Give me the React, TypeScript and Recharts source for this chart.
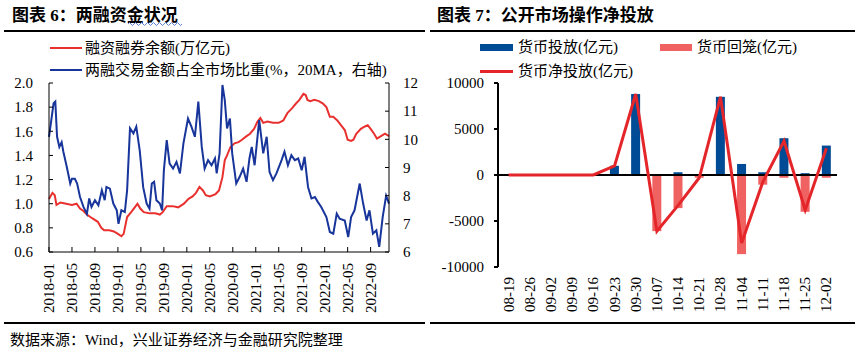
import { LineChart, Line, XAxis, YAxis, ComposedChart, Bar, ReferenceLine } from "recharts";

const FONT = '"Liberation Serif", "Times New Roman", "Noto Sans CJK SC", serif';

// left chart: month index since 2018-01 -> value
const marginBalance: [number, number][] = [
  [0, 1.04], [0.6, 1.09], [1.0, 1.07], [1.3, 0.99], [2, 1.01], [3, 1.0], [4, 0.99], [4.8, 1.0],
  [5.4, 0.96], [6, 0.94], [6.6, 0.91], [7.5, 0.88], [8.5, 0.85], [9.1, 0.8], [9.6, 0.78], [10.5, 0.78],
  [11.3, 0.77], [12, 0.75], [12.6, 0.73], [13, 0.75], [13.6, 0.89], [14.3, 0.93], [15.1, 0.98], [15.4, 1.0],
  [15.9, 0.96], [16.5, 0.93], [17.5, 0.92], [18.5, 0.92], [19.3, 0.91], [19.8, 0.93], [20.5, 0.98], [21.5, 0.98],
  [22.5, 0.97], [23.5, 1.0], [24.3, 1.04], [25, 1.06], [25.6, 1.09], [26.2, 1.14], [26.8, 1.11], [27.3, 1.07],
  [28, 1.06], [29, 1.08], [29.6, 1.11], [30.2, 1.22], [30.6, 1.36], [31, 1.4], [31.6, 1.47], [32.3, 1.5],
  [33, 1.51], [33.6, 1.53], [34.4, 1.56], [35, 1.58], [35.7, 1.62], [36.3, 1.68], [36.8, 1.71], [37.3, 1.67],
  [38, 1.68], [39, 1.67], [40, 1.67], [40.8, 1.69], [41.5, 1.75], [42.3, 1.79], [43, 1.83], [43.6, 1.86],
  [44.3, 1.91], [44.7, 1.9], [45, 1.86], [45.5, 1.85], [46.2, 1.86], [47, 1.85], [47.7, 1.83], [48.3, 1.8],
  [48.9, 1.72], [49.5, 1.72], [50.2, 1.69], [51, 1.64], [51.5, 1.61], [52, 1.53], [52.6, 1.52], [53, 1.53],
  [53.5, 1.58], [54.3, 1.62], [55, 1.64], [55.5, 1.65], [56, 1.62], [56.6, 1.58], [57.1, 1.54], [57.8, 1.56],
  [58.5, 1.58], [59.2, 1.56],
];

const tradeShare: [number, number][] = [
  [0, 10.09], [0.4, 10.68], [0.8, 11.28], [1.1, 11.34], [1.4, 10.1], [1.8, 9.73], [2.2, 9.9], [2.5, 9.56],
  [3.1, 9.02], [3.7, 8.43], [4.0, 8.6], [4.5, 8.6], [4.9, 8.43], [5.4, 7.95], [6.0, 7.6], [6.6, 7.35],
  [7.0, 7.9], [7.4, 7.6], [8.0, 7.84], [8.6, 7.66], [9.2, 8.19], [9.7, 7.84], [10, 8.31], [10.6, 8.25],
  [11.2, 7.72], [11.8, 7.48], [12.1, 7.0], [12.6, 7.48], [13.2, 7.42], [13.6, 8.19], [14.1, 10.39], [14.7, 10.21],
  [15.2, 10.45], [15.8, 9.6], [16.4, 8.3], [17, 7.72], [17.5, 7.54], [17.9, 8.43], [18.3, 8.49], [18.7, 7.84],
  [19.3, 7.72], [19.7, 7.48], [20, 8.9], [20.5, 9.97], [21, 9.14], [21.6, 8.96], [22.2, 9.2], [22.8, 8.79],
  [23.4, 9.85], [24.2, 10.74], [24.8, 10.45], [25.4, 10.09], [26, 11.34], [26.6, 9.73], [27.1, 8.96], [27.7, 9.26],
  [28.3, 9.08], [28.9, 9.32], [29.2, 8.79], [29.7, 9.5], [30.2, 11.93], [30.6, 11.4], [31, 10.39], [31.5, 10.74],
  [31.9, 9.5], [32.6, 8.43], [33.2, 8.67], [33.8, 8.96], [34.4, 8.49], [34.9, 9.32], [35.3, 9.73], [35.8, 9.08],
  [36.6, 10.68], [37.3, 9.5], [37.9, 10.09], [38.4, 8.84], [39, 8.55], [39.6, 8.79], [40.5, 9.26], [41, 9.56],
  [41.6, 9.08], [42.2, 9.44], [42.8, 9.26], [43.4, 9.32], [44, 8.9], [44.5, 9.38], [45.1, 8.31], [45.7, 7.9],
  [46.3, 7.95], [46.8, 7.78], [47.4, 7.6], [48.3, 7.24], [48.9, 6.71], [49.5, 6.65], [50.1, 7.36], [50.6, 7.18],
  [51.5, 7.12], [52.1, 6.53], [52.6, 7.24], [53.2, 7.48], [54.1, 8.43], [54.7, 7.72], [55.3, 7.12], [55.8, 7.48],
  [56.4, 6.65], [57, 6.77], [57.5, 6.18], [58.1, 7.24], [58.7, 8.0], [59.2, 7.72],
];

const monthLabels = [
  "2018-01", "2018-05", "2018-09", "2019-01", "2019-05", "2019-09", "2020-01", "2020-05",
  "2020-09", "2021-01", "2021-05", "2021-09", "2022-01", "2022-05", "2022-09",
];
const leftTicks = [0.6, 0.8, 1.0, 1.2, 1.4, 1.6, 1.8, 2.0];
const rightTicks = [6, 7, 8, 9, 10, 11, 12];

// right chart: weekly open market operations (亿元)
const weeks = [
  "08-19", "08-26", "09-02", "09-09", "09-16", "09-23", "09-30", "10-07",
  "10-14", "10-21", "10-28", "11-04", "11-11", "11-18", "11-25", "12-02",
];
const injection = [0, 0, 0, 0, 0, 1000, 8800, 0, 300, 0, 8500, 1200, 300, 4000, 200, 3200];
const withdrawal = [0, 0, 0, 0, 0, 0, 0, -6100, -3600, -300, 0, -8600, -1050, -300, -4000, -300];
const netInjection = [0, 0, 0, 0, 0, 1000, 8800, -6100, -3300, -300, 8500, -7400, -750, 3700, -3800, 2900];
const omoTicks = [-10000, -5000, 0, 5000, 10000];

const monthIndex = (s: string) => (Number(s.slice(0, 4)) - 2018) * 12 + Number(s.slice(5, 7)) - 1;
const labelByMonth: Record<number, string> = {};
monthLabels.forEach((s) => (labelByMonth[monthIndex(s)] = s));

const redData = marginBalance.map(([t, v]) => ({ t, v }));
const blueData = tradeShare.map(([t, v]) => ({ t, v }));
const omoData = weeks.map((w, i) => ({ week: w, inj: injection[i], wd: withdrawal[i], net: netInjection[i] }));

function VertTick(props: any) {
  const { x, payload, top, label } = props;
  const text = label ? label(payload.value) : payload.value;
  return (
    <text
      transform={`translate(${x},${top}) rotate(-90)`}
      textAnchor="end"
      dominantBaseline="central"
      fontSize={15}
      fontFamily={FONT}
      fill="#000"
    >
      {text}
    </text>
  );
}

const abs = (left: number, top: number, extra: any = {}) => ({ position: "absolute" as const, left, top, ...extra });
const txt = { fontSize: 15, lineHeight: "16px", whiteSpace: "nowrap" as const, color: "#000" };

export default function App() {
  return (
    <div style={{ position: "absolute", left: 0, top: 0, width: 860, height: 350, background: "#fff", fontFamily: FONT, overflow: "hidden" }}>
      {/* titles and rules */}
      <div style={abs(12, 7, { fontSize: 17, lineHeight: "18px", fontWeight: 700, whiteSpace: "nowrap" })}>图表 6：两融资金状况</div>
      <svg style={abs(128, 21)} width={56} height={6}>
        <path d="M0 3 Q1.5 0 3 3 T6 3 T9 3 T12 3 T15 3 T18 3 T21 3 T24 3 T27 3 T30 3 T33 3 T36 3 T39 3 T42 3 T45 3 T48 3 T51 3 T54 3" fill="none" stroke="#5a82d6" strokeWidth={1} />
      </svg>
      <div style={abs(437, 7, { fontSize: 17, lineHeight: "18px", fontWeight: 700, whiteSpace: "nowrap" })}>图表 7：公开市场操作净投放</div>
      <div style={abs(4, 30, { width: 421, height: 2, background: "#000" })} />
      <div style={abs(430, 30, { width: 425, height: 2, background: "#000" })} />
      <div style={abs(4, 322, { width: 421, height: 1.5, background: "#000" })} />
      <div style={abs(430, 322, { width: 425, height: 1.5, background: "#000" })} />
      <div style={abs(10, 332, txt)}>数据来源：Wind，兴业证券经济与金融研究院整理</div>

      {/* left legend */}
      <div style={abs(50, 47, { width: 32, height: 2, background: "#e8312f" })} />
      <div style={abs(85, 40, txt)}>融资融券余额(万亿元)</div>
      <div style={abs(50, 69, { width: 32, height: 2, background: "#17359a" })} />
      <div style={abs(85, 62, txt)}>两融交易金额占全市场比重(%，20MA，右轴)</div>

      {/* right legend */}
      <div style={abs(480, 44, { width: 33, height: 7, background: "#004b96" })} />
      <div style={abs(518, 39, txt)}>货币投放(亿元)</div>
      <div style={abs(660, 44, { width: 32, height: 7, background: "#f06262" })} />
      <div style={abs(697, 39, txt)}>货币回笼(亿元)</div>
      <div style={abs(480, 70, { width: 33, height: 3, background: "#e4262a" })} />
      <div style={abs(518, 63, txt)}>货币净投放(亿元)</div>

      <div style={abs(0, 0)}>
        <LineChart width={430} height={350} margin={{ top: 83, right: 0, bottom: 38, left: 0 }}>
          <XAxis
            dataKey="t"
            type="number"
            domain={[0, 59.2]}
            ticks={monthLabels.map(monthIndex)}
            height={60}
            stroke="#000"
            tickSize={-5}
            interval={0}
            tick={(p: any) => <VertTick {...p} top={263} label={(v: number) => labelByMonth[v]} />}
          />
          <YAxis
            yAxisId="left"
            domain={[0.6, 2.0]}
            ticks={leftTicks}
            width={49}
            stroke="#000"
            tickSize={-4}
            tickMargin={20}
            tickFormatter={(v: number) => v.toFixed(1)}
            tick={{ fill: "#000", fontSize: 15, fontFamily: FONT }}
          />
          <YAxis
            yAxisId="right"
            orientation="right"
            domain={[6, 12]}
            ticks={rightTicks}
            width={41}
            stroke="#000"
            tickSize={-4}
            tickMargin={18}
            tick={{ fill: "#000", fontSize: 15, fontFamily: FONT, textAnchor: "start" }}
          />
          <Line data={redData} dataKey="v" yAxisId="left" type="linear" stroke="#e8312f" strokeWidth={2} dot={false} isAnimationActive={false} />
          <Line data={blueData} dataKey="v" yAxisId="right" type="linear" stroke="#17359a" strokeWidth={2} dot={false} isAnimationActive={false} />
        </LineChart>
      </div>

      <div style={abs(430, 0)}>
        <ComposedChart width={430} height={350} data={omoData} stackOffset="sign" margin={{ top: 83, right: 23, bottom: 23, left: 0 }}>
          <XAxis
            dataKey="week"
            height={60}
            axisLine={false}
            tickLine={false}
            interval={0}
            tick={(p: any) => <VertTick {...p} top={277} />}
          />
          <YAxis
            domain={[-10000, 10000]}
            ticks={omoTicks}
            width={68}
            stroke="#000"
            strokeWidth={2}
            tickSize={4}
            tickMargin={10}
            tick={{ fill: "#000", fontSize: 15, fontFamily: FONT }}
          />
          <ReferenceLine y={0} stroke="#000" strokeWidth={2} />
          <Bar dataKey="inj" stackId="s" fill="#004b96" barSize={9} isAnimationActive={false} />
          <Bar dataKey="wd" stackId="s" fill="#f06262" barSize={9} isAnimationActive={false} />
          <Line dataKey="net" type="linear" stroke="#e4262a" strokeWidth={3} dot={false} isAnimationActive={false} />
        </ComposedChart>
      </div>
    </div>
  );
}
